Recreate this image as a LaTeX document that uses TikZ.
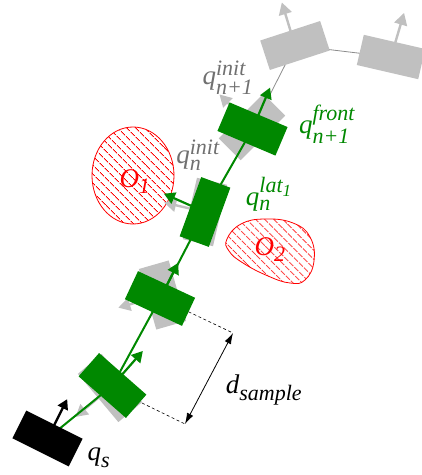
\documentclass[tikz,border=0pt]{standalone}
\usepackage{amsmath}
\usepackage{fontspec}
\setmainfont{Liberation Serif}
\usetikzlibrary{arrows.meta,patterns.meta}
\DeclareMathSizes{27}{27}{22}{17}
\definecolor{rgreen}{RGB}{0,136,0}
\definecolor{ghost}{RGB}{192,192,192}
\definecolor{gtext}{RGB}{112,112,112}
\definecolor{lgray}{RGB}{140,140,140}
\newcommand{\mi}[1]{\textit{#1}}
\begin{document}
\begin{tikzpicture}[x=1pt,y=1pt,
  robot/.style={minimum width=63pt,minimum height=31pt,inner sep=0pt,outer sep=0pt},
  ghostbox/.style={robot,fill=ghost},
  greenbox/.style={robot,fill=rgreen},
  blackbox/.style={robot,fill=black},
  ghostarrow/.style={draw=ghost,line width=2.4pt,-{Triangle[length=12pt,width=13pt]}},
  greenarrow/.style={draw=rgreen,line width=2.2pt,-{Triangle[length=11pt,width=12pt]}},
  blackarrow/.style={draw=black,line width=2.4pt,-{Triangle[length=10pt,width=11pt]}},
  gline/.style={draw=lgray,line width=0.8pt},
  pathline/.style={draw=rgreen,line width=2pt},
  obstacle/.style={draw=red,line width=0.8pt,pattern={Lines[angle=-45,distance=6.5pt,line width=0.8pt]},pattern color=red},
  dimline/.style={draw=black,line width=0.6pt,dash pattern=on 3pt off 2.5pt},
  dimarrow/.style={draw=black,line width=0.8pt,{Latex[length=11pt,width=7pt]}-{Latex[length=11pt,width=7pt]}},
  lbl/.style={inner sep=0pt,font=\fontsize{27}{31}\selectfont},
]
\useasboundingbox (0,0) rectangle (422,475);

% centres
\coordinate (cs) at (47.5,36.5);
\coordinate (c1) at (112.5,89.5);
\coordinate (c2) at (160,176.5);
\coordinate (c3) at (205,263);
\coordinate (c4) at (252.5,346);
\coordinate (cg1) at (110,87);
\coordinate (cg2) at (162.5,180);
\coordinate (cg4) at (252,348);
\coordinate (cg5) at (295,429.5);
\coordinate (cg6) at (391,418);

% obstacles
\path[obstacle] (133,299.5) ellipse[x radius=41,y radius=48.5];
\node[lbl,text=red] (o1) at (135,293) {$\mi{O}_{\mi{1}}$};
\path[obstacle] plot[smooth cycle,tension=0.75] coordinates {(227,236) (241,251) (265,256) (293,252) (310,238) (314,214) (305,195) (290,192) (268,199) (243,212) (229,224)};
\node[lbl,text=red] (o2) at (270,225) {$\mi{O}_{\mi{2}}$};

% gray trajectory
\draw[gline] (c4) -- (cg5) -- (cg6);

% ghost robots
\node[ghostbox,rotate=130] (g1) at (cg1) {};
\draw[ghostarrow] (g1.center) -- ++(220:45);
\node[ghostbox,rotate=106] (g2) at (cg2) {};
\draw[ghostarrow] (g2.center) -- ++(196:46);
\node[ghostbox,rotate=77] (g3) at (c3) {};
\draw[ghostarrow] (g3.center) -- ++(167:42);
\node[ghostbox,rotate=45] (g4) at (cg4) {};
\draw[ghostarrow] (g4.center) -- ++(135:46);
\node[ghostbox,rotate=18] (g5) at (cg5) {};
\draw[ghostarrow] (g5.center) -- ++(107:45);
\node[ghostbox,rotate=-13] (g6) at (cg6) {};
\draw[ghostarrow] (g6.center) -- ++(73.5:46);

% green path
\draw[pathline] (cs) -- (c1) -- (c2) -- (c3) -- (c4);

% green robots
\node[greenbox,rotate=-41.3] (r1) at (c1) {};
\draw[greenarrow] (r1.center) -- ++(48.7:46);
\node[greenbox,rotate=-25] (r2) at (c2) {};
\draw[greenarrow] (r2.center) -- ++(63:40);
\node[greenbox,rotate=70] (r3) at (c3) {};
\draw[greenarrow] (r3.center) -- ++(156:45);
\node[greenbox,rotate=-23] (r4) at (c4) {};
\draw[greenarrow] (r4.center) -- ++(67:45);

% start robot
\node[blackbox,rotate=-26.6] (qs) at (cs) {};
\draw[blackarrow] (qs.center) -- ++(63.4:44);

% d_sample dimension
\coordinate (dA) at (233,142);
\coordinate (dB0) at (142,72);
\coordinate (dB) at (185,51);
\draw[dimline] (r2.east) -- (dA);
\draw[dimline] (dB0) -- (dB);
\draw[dimarrow] (dA) -- (dB);

% labels
\node[lbl,text=gtext] (linit1) at (228,397) {$\mi{q}^{\mi{init}}_{\mi{n+1}}$};
\node[lbl,text=rgreen] (lfront) at (327,351) {$\mi{q}^{\mi{front}}_{\mi{n+1}}$};
\node[lbl,text=gtext] (linit) at (198,320) {$\mi{q}^{\mi{init}}_{\mi{n}}$};
\node[lbl,text=rgreen] (llat) at (269,281) {$\mi{q}^{\mi{lat}_{\mi{1}}}_{\mi{n}}$};
\node[lbl] (ld) at (264,85) {$\mi{d}_{\mi{sample}}$};
\node[lbl] (lqs) at (99,17) {$\mi{q}_{\mi{s}}$};
\end{tikzpicture}
\end{document}
